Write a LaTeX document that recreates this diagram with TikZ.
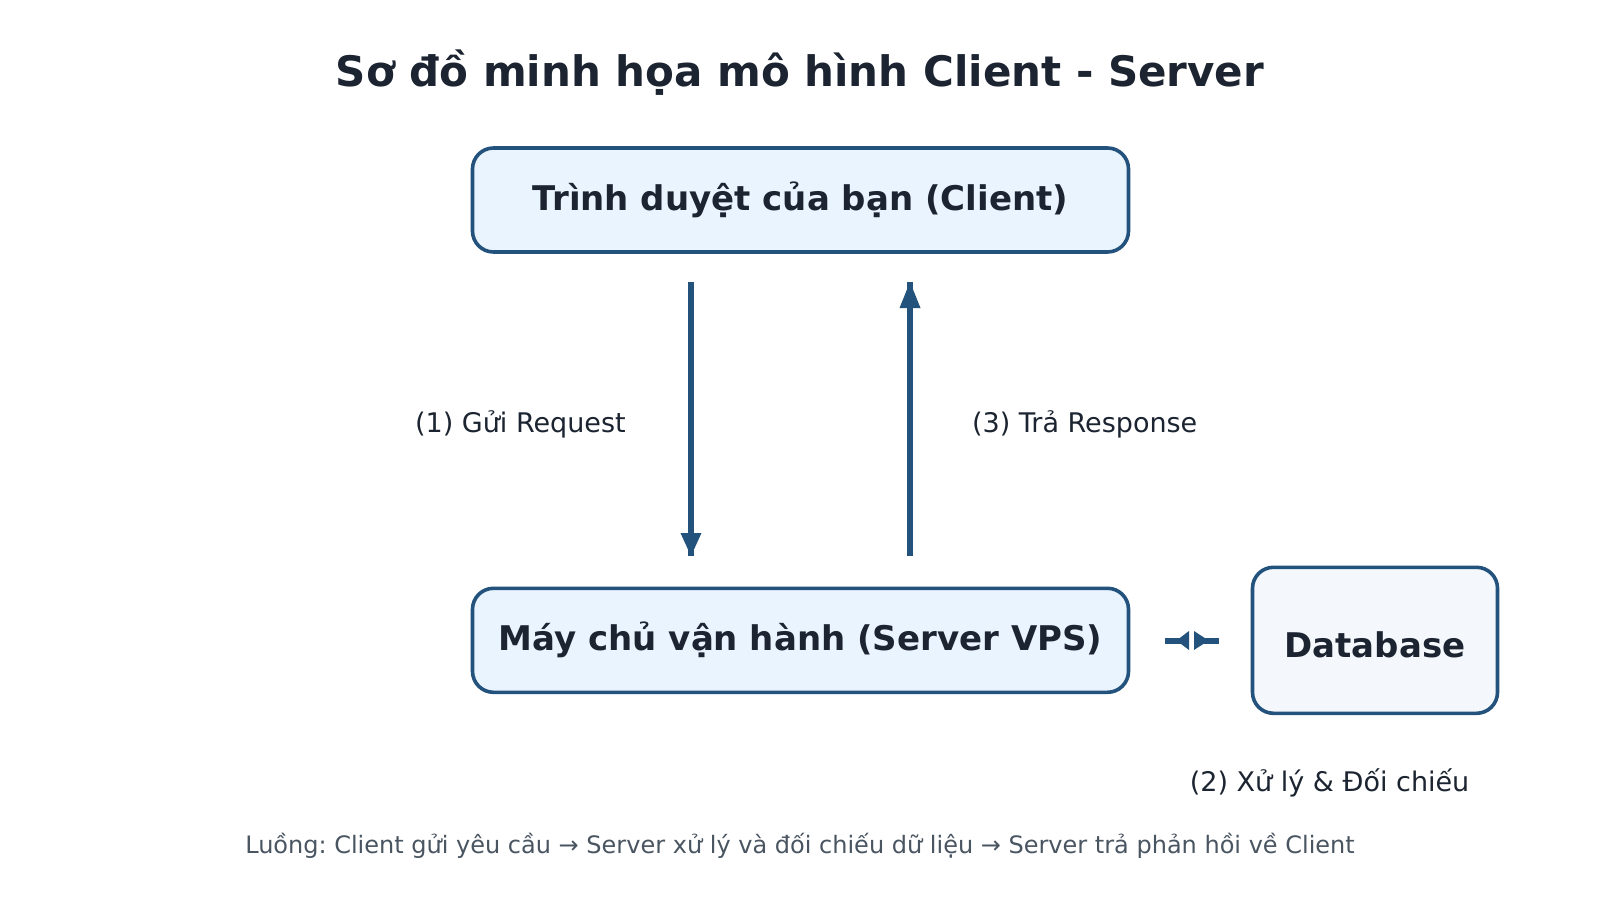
\documentclass[tikz,border=0pt]{standalone}
\usepackage{fontspec}
\setmainfont{DejaVu Sans}
\usetikzlibrary{calc}
\definecolor{edge}{HTML}{23527C}
\definecolor{boxfill}{HTML}{EAF4FF}
\definecolor{dbfill}{HTML}{F4F8FD}
\definecolor{ink}{HTML}{1B2430}
\definecolor{muted}{HTML}{4A5562}
\begin{document}
\frenchspacing
\begin{tikzpicture}[x=1pt,y=-1pt,
  box/.style={draw=edge, line width=3.6pt, rounded corners=21pt, fill=boxfill, text=ink,
    font=\bfseries\fontsize{34}{40}\selectfont, minimum width=656pt, minimum height=104pt, inner sep=0pt},
  dbbox/.style={box, fill=dbfill, minimum width=245pt, minimum height=146pt, text height=34.7pt, text depth=0pt},
  lbl/.style={text=ink, font=\fontsize{27}{32}\selectfont, inner sep=0pt},
  foot/.style={text=muted, font=\fontsize{24}{28}\selectfont, inner sep=0pt},
  shaft/.style={draw=edge, line width=6pt},
  head/.style={fill=edge}]
\useasboundingbox (0,0) rectangle (1600,900);
\fill[white] (0,0) rectangle (1600,900);
\node[text=ink, font=\bfseries\fontsize{42}{50}\selectfont, inner sep=0pt] (title) at (800,73) {Sơ đồ minh họa mô hình Client - Server};
\node[box] (client) at (800.5,200) {Trình duyệt của bạn (Client)};
\node[box] (server) at (800.5,640.3) {Máy chủ vận hành (Server VPS)};
\node[dbbox] (db) at (1375,640.3) {Database};
% request arrow
\coordinate (r1) at (691,282);
\coordinate (r2) at (691,556);
\draw[shaft] (r1) -- (r2);
\fill[head] (r2) -- ($(r2)+(-10.5,-23)$) -- ($(r2)+(10.5,-23)$) -- cycle;
% response arrow
\coordinate (p1) at (910,556);
\coordinate (p2) at (910,282);
\draw[shaft] (p1) -- (p2);
\fill[head] (p2) -- ($(p2)+(-10.5,26)$) -- ($(p2)+(10.5,26)$) -- cycle;
% server <-> database
\coordinate (d1) at (1165,640.5);
\coordinate (dl) at (1189,640.5);
\coordinate (dr) at (1194,640.5);
\coordinate (d2) at (1219,640.5);
\draw[shaft] (d1) -- (dl);
\draw[shaft] (dr) -- (d2);
\fill[head] ($(dl)+(0,-9.5)$) -- ($(dl)+(-12.5,0)$) -- ($(dl)+(0,9.5)$) -- cycle;
\fill[head] ($(dr)+(0,-9.5)$) -- ($(dr)+(14.5,0)$) -- ($(dr)+(0,9.5)$) -- cycle;
% labels
\node[lbl] (l1) at (520.4,424.4) {(1) Gửi Request};
\node[lbl] (l3) at (1084.7,424.4) {(3) Trả Response};
\node[lbl] (l2) at (1329.6,782.6) {(2) Xử lý \& Đối chiếu};
\node[foot] (note) at (800,846) {Luồng: Client gửi yêu cầu → Server xử lý và đối chiếu dữ liệu → Server trả phản hồi về Client};
\end{tikzpicture}
\end{document}
